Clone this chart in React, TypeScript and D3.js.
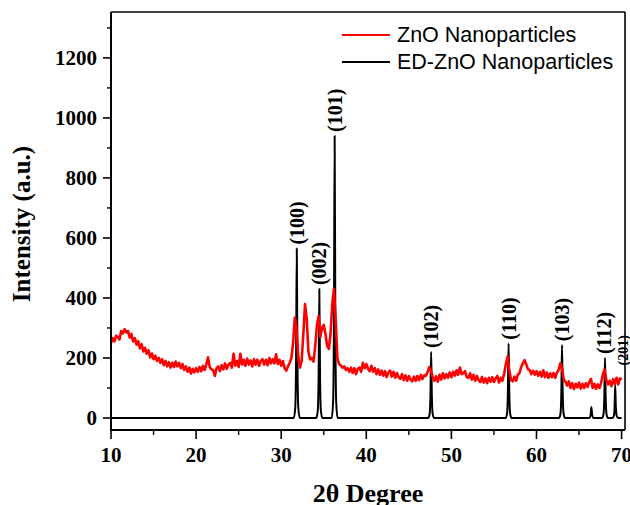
import { useMemo } from "react";
import * as d3 from "d3";

// ZnO nanoparticles (red), sampled every 0.2 deg from 10 to 70
const redStart = 10;
const redStep = 0.2;
const redValues = [
  250, 266, 255, 274, 270, 262, 290, 282, 296, 285,
  290, 268, 280, 255, 266, 244, 256, 232, 246, 222,
  234, 214, 226, 202, 215, 196, 208, 190, 200, 184,
  196, 176, 190, 172, 186, 168, 184, 170, 188, 172,
  184, 166, 180, 160, 172, 154, 168, 148, 164, 152,
  166, 154, 170, 156, 174, 160, 178, 202, 170, 162,
  160, 140, 166, 172, 156, 176, 162, 182, 164, 178,
  184, 168, 214, 174, 190, 170, 214, 178, 194, 174,
  198, 178, 192, 172, 196, 178, 194, 174, 190, 196,
  178, 194, 176, 200, 182, 196, 182, 212, 180, 194,
  174, 190, 166, 158, 172, 184, 200, 250, 335, 300,
  205, 168, 190, 280, 380, 330, 220, 195, 200, 188,
  240, 310, 340, 270, 300, 310, 280, 240, 230, 280,
  380, 430, 330, 200, 180, 175, 168, 172, 160, 166,
  154, 168, 150, 166, 146, 164, 168, 154, 184, 166,
  180, 164, 156, 174, 154, 166, 146, 162, 144, 158,
  141, 156, 136, 152, 158, 138, 154, 134, 150, 136,
  131, 146, 126, 142, 124, 140, 128, 122, 138, 124,
  140, 126, 144, 130, 142, 141, 152, 170, 158, 136,
  124, 139, 121, 144, 128, 149, 132, 146, 134, 152,
  136, 154, 141, 159, 144, 168, 146, 149, 156, 136,
  134, 149, 128, 144, 124, 140, 126, 120, 137, 118,
  132, 116, 134, 121, 136, 120, 132, 140, 118, 134,
  124, 148, 180, 205, 160, 128, 122, 138, 124, 144,
  150, 170, 182, 193, 178, 162, 160, 146, 158, 144,
  156, 141, 154, 138, 159, 136, 152, 134, 149, 136,
  150, 134, 152, 160, 182, 165, 128, 122, 108, 122,
  100, 116, 97, 114, 102, 118, 98, 114, 100, 116,
  104, 120, 130, 100, 114, 97, 112, 100, 118, 145,
  162, 128, 112, 124, 106, 130, 114, 134, 112, 132,
  128,
];

// ED-ZnO nanoparticles (black), [2theta, intensity]
const blackPoints: [number, number][] = [
  [10, 0],
  [31.48, 0], [31.65, 34], [31.75, 198], [31.83, 565], [31.91, 198], [32.01, 34], [32.18, 0],
  [34.13, 0], [34.3, 26], [34.4, 150], [34.48, 430], [34.56, 150], [34.66, 26], [34.83, 0],
  [35.93, 0], [36.1, 56], [36.2, 330], [36.28, 940], [36.36, 330], [36.46, 56], [36.63, 0],
  [47.27, 0], [47.44, 13], [47.54, 77], [47.62, 220], [47.7, 77], [47.8, 13], [47.97, 0],
  [56.37, 0], [56.54, 15], [56.64, 87], [56.72, 248], [56.8, 87], [56.9, 15], [57.07, 0],
  [62.65, 0], [62.82, 15], [62.92, 85], [63.0, 243], [63.08, 85], [63.18, 15], [63.35, 0],
  [66.2, 0], [66.35, 8], [66.45, 37], [66.55, 8], [66.7, 0],
  [67.7, 0], [67.87, 12], [67.97, 70], [68.05, 200], [68.13, 70], [68.23, 12], [68.4, 0],
  [68.95, 0], [69.1, 8], [69.18, 40], [69.25, 110], [69.32, 40], [69.42, 8], [69.6, 0],
  [70, 0],
];

const peakLabels = ["(100)", "(002)", "(101)", "(102)", "(110)", "(103)", "(112)", "(201)"];
const peakPos = [31.83, 34.48, 36.28, 47.65, 56.72, 63.0, 67.9, 70.2];
const peakLabelAt = [578, 443, 953, 233, 261, 256, 213, 175];

const yMajor = [0, 200, 400, 600, 800, 1000, 1200];
const yMinor = [100, 300, 500, 700, 900, 1100, 1300];
const xMajor = [10, 20, 30, 40, 50, 60, 70];
const xMinor = [15, 25, 35, 45, 55, 65];

const legendItems = ["ZnO Nanoparticles", "ED-ZnO Nanoparticles"];
const legendColors = ["#ff0000", "#000000"];

const serif = "'Liberation Serif', 'Times New Roman', serif";
const sans = "'Liberation Sans', Arial, sans-serif";

export default function App() {
  const W = 630;
  const H = 505;
  const left = 111, right = 625, top = 12, bottom = 430;

  const x = d3.scaleLinear().domain([10, 70.4]).range([left, right]);
  const y = d3.scaleLinear().domain([-40, 1353]).range([bottom, top]);

  const redPath = useMemo(() => {
    const pts = redValues.map((v, i) => [redStart + i * redStep, v] as [number, number]);
    return d3.line<[number, number]>().x((d) => x(d[0])).y((d) => y(d[1]))(pts);
  }, []);

  const blackPath = useMemo(
    () =>
      d3
        .line<[number, number]>()
        .x((d) => x(d[0]))
        .y((d) => y(d[1]))
        .curve(d3.curveMonotoneX)(blackPoints),
    []
  );

  return (
    <div style={{ position: "fixed", left: 0, top: 0 }}>
      <svg width={W} height={H} style={{ background: "#fff", display: "block" }}>
        {/* frame */}
        <line x1={left} x2={right} y1={top} y2={top} stroke="#000" strokeWidth={1.6} />
        <line x1={right} x2={right} y1={top} y2={bottom} stroke="#000" strokeWidth={1.6} />

        {/* series */}
        <path d={blackPath ?? ""} fill="none" stroke="#000" strokeWidth={2} strokeLinejoin="round" />
        <path d={redPath ?? ""} fill="none" stroke="#ff0000" strokeWidth={2.6} strokeLinejoin="round" />

        {/* axes */}
        <line x1={left} x2={left} y1={top} y2={bottom + 1} stroke="#000" strokeWidth={2} />
        <line x1={left - 1} x2={right} y1={bottom} y2={bottom} stroke="#000" strokeWidth={2} />

        {yMajor.map((v) => (
          <g key={"ym" + v}>
            <line x1={left - 8} x2={left} y1={y(v)} y2={y(v)} stroke="#000" strokeWidth={1.6} />
            <text
              x={left - 14}
              y={y(v)}
              textAnchor="end"
              dominantBaseline="central"
              fontFamily={serif}
              fontWeight="bold"
              fontSize={21}
            >
              {v}
            </text>
          </g>
        ))}
        {yMinor.map((v) => (
          <line key={"yn" + v} x1={left - 4} x2={left} y1={y(v)} y2={y(v)} stroke="#000" strokeWidth={1.4} />
        ))}
        {xMajor.map((v) => (
          <g key={"xm" + v}>
            <line x1={x(v)} x2={x(v)} y1={bottom} y2={bottom + 9} stroke="#000" strokeWidth={1.6} />
            <text
              x={x(v)}
              y={bottom + 32}
              textAnchor="middle"
              fontFamily={serif}
              fontWeight="bold"
              fontSize={21}
            >
              {v}
            </text>
          </g>
        ))}
        {xMinor.map((v) => (
          <line key={"xn" + v} x1={x(v)} x2={x(v)} y1={bottom} y2={bottom + 5} stroke="#000" strokeWidth={1.4} />
        ))}

        {/* axis titles */}
        <text
          transform={`translate(30,${(top + bottom) / 2 + 3}) rotate(-90)`}
          textAnchor="middle"
          fontFamily={serif}
          fontWeight="bold"
          fontSize={25}
        >
          Intensity (a.u.)
        </text>
        <text
          x={(left + right) / 2}
          y={502}
          textAnchor="middle"
          fontFamily={serif}
          fontWeight="bold"
          fontSize={26}
        >
          2θ Degree
        </text>

        {/* peak labels */}
        {peakLabels.map((lab, i) => (
          <text
            key={lab}
            transform={`translate(${x(peakPos[i])},${y(peakLabelAt[i])}) rotate(-90)`}
            textAnchor="start"
            dominantBaseline="central"
            fontFamily={serif}
            fontWeight="bold"
            fontSize={i === 7 ? 14 : 20}
          >
            {lab}
          </text>
        ))}

        {/* legend */}
        {legendItems.map((name, i) => (
          <g key={name} transform={`translate(342,${35 + i * 27})`}>
            <line x1={0} x2={48} y1={0} y2={0} stroke={legendColors[i]} strokeWidth={2} />
            <text x={55} y={0} dominantBaseline="central" fontFamily={sans} fontSize={21.5}>
              {name}
            </text>
          </g>
        ))}
      </svg>
    </div>
  );
}
